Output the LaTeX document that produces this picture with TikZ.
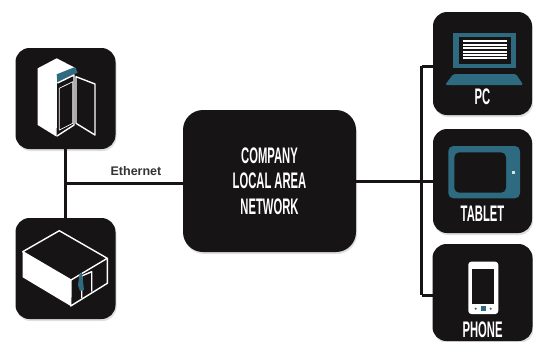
\documentclass[tikz,border=0pt]{standalone}
\usepackage{fontspec}
\newfontfamily\condfont[FakeStretch=0.5]{Liberation Sans}
\setsansfont{Liberation Sans}
\usetikzlibrary{positioning,shadows}
\definecolor{tileblack}{HTML}{161414}
\definecolor{iconteal}{HTML}{2F6B80}
\definecolor{labelgray}{HTML}{333333}

\begin{document}
\begin{tikzpicture}[x=1pt, y=-1pt, on grid, line width=3pt,
	tile/.style={fill=tileblack, rounded corners=14pt, inner sep=0pt, outer sep=0pt, minimum width=100pt, drop shadow={shadow xshift=1pt, shadow yshift=-2pt, opacity=.25}},
	caption/.style={white, font=\condfont\bfseries\fontsize{22.5}{25.5}\selectfont, align=center, inner sep=0pt},
	link/.style={draw=tileblack, line width=3pt},
	outline/.style={draw=white, line width=1.4pt, line join=round},
	teal/.style={fill=iconteal}]
	\useasboundingbox (0,0) rectangle (533,341);
	\clip (0,0) rectangle (533,341);

	\node[tile, minimum width=173pt, minimum height=142pt, rounded corners=20pt] (lan) at (269.5,181){};
	\node[tile, minimum height=101pt] (rack) [above left=82.5pt and 204pt of lan]{};
	\node[tile, minimum height=101pt] (room) [below left=87.5pt and 204pt of lan]{};
	\node[tile, minimum width=99pt, minimum height=103pt] (pc) [above right=117.5pt and 213pt of lan]{};
	\node[tile, minimum width=99pt, minimum height=104pt] (tablet) [right=213pt of lan]{};
	\node[tile, minimum height=97pt] (phone) [below right=111.5pt and 213pt of lan]{};

	\node[caption] (lantext) [at=(lan)]{COMPANY\\LOCAL AREA\\NETWORK};
	\node[caption] (pctext) [below=33.5pt of pc]{PC};
	\node[caption] (tablettext) [below=33pt of tablet]{TABLET};
	\node[caption] (phonetext) [below=37.5pt of phone]{PHONE};

	\coordinate (lefthub) at (65.5,183);
	\coordinate (bustop) at (421.5,66);
	\coordinate (busbottom) at (421.5,295);

	\path[link] (rack) edge[] (room);
	\path[link] (lefthub) edge[] node[above=5.5pt, pos=.6, labelgray, inner sep=0pt, font=\sffamily\bfseries\fontsize{12.5}{15}\selectfont]{Ethernet} (lan.west |- lefthub);
	\path[link] (lan) edge[] (tablet);
	\path[link] (bustop) edge[] (busbottom);
	\path[link] (bustop) edge[] (pc.west |- bustop);
	\path[link] (busbottom) edge[] (phone.west |- busbottom);

	% rack icon
	\fill[white] (37.7,68.3) -- (56.7,58.3) -- (76,68.3) -- (57,83) -- (56.7,136.7) -- (37.7,125) -- cycle;
	\fill[teal] (56.7,74.3) -- (75,67) -- (77.7,72.5) -- (57.3,83) -- cycle;
	\draw[outline] (57.5,83) -- (74,75) -- (74,125) -- (57,136);
	\draw[outline] (76,76.7) -- (95,84) -- (95,135) -- (76,123.3) -- cycle;
	\draw[outline, line width=.7pt] (59.3,88.3) -- (72.7,81.7) -- (72.7,123.3) -- (59.3,130) -- cycle;

	% room icon
	\fill[white] (22.7,251.7) -- (71,280) -- (70.7,306) -- (22.7,277.3) -- cycle;
	\draw[outline] (59.3,230.7) -- (107.3,258.3) -- (71,280) -- (22.7,251.7) -- cycle;
	\draw[outline] (107.3,258.3) -- (107.3,283.3) -- (70.7,306) -- (71,280);
	\draw[outline] (81.7,298) -- (81.7,276) -- (91.7,271.7) -- (91.7,291.7);
	\fill[teal] (78,285) -- (79.5,274) -- (82,273) -- (84,290) -- (80,291) -- cycle;

	% laptop icon
	\fill[teal] (452.7,32.7) rectangle (516,68.3);
	\fill[tileblack] (459.3,37.3) rectangle (511,64);
	\foreach \y in {41,44.5,48,51.5,55,58.3}
		\fill[white] (463.3,\y-1) rectangle (506.7,\y+1);
	\fill[teal, rounded corners=1.5pt] (453.3,74) -- (516,74) -- (523.3,85) -- (445,85) -- cycle;

	% tablet icon
	\fill[teal, rounded corners=5pt] (448.3,146) rectangle (520,198.3);
	\fill[tileblack, rounded corners=5pt] (454.3,152.3) rectangle (506,192.7);
	\fill[white!80!iconteal] (511.5,170.5) rectangle (514.5,173.5);

	% phone icon
	\fill[white, rounded corners=3pt] (468.3,261.7) rectangle (498.3,314);
	\fill[tileblack] (472.3,269.3) rectangle (494,304);
	\fill[teal] (481,306) rectangle (485.7,310.7);
	\foreach \x in {475.7,490.7}
		\fill[teal] (\x,308.7) circle (1.2pt);
\end{tikzpicture}
\end{document}
